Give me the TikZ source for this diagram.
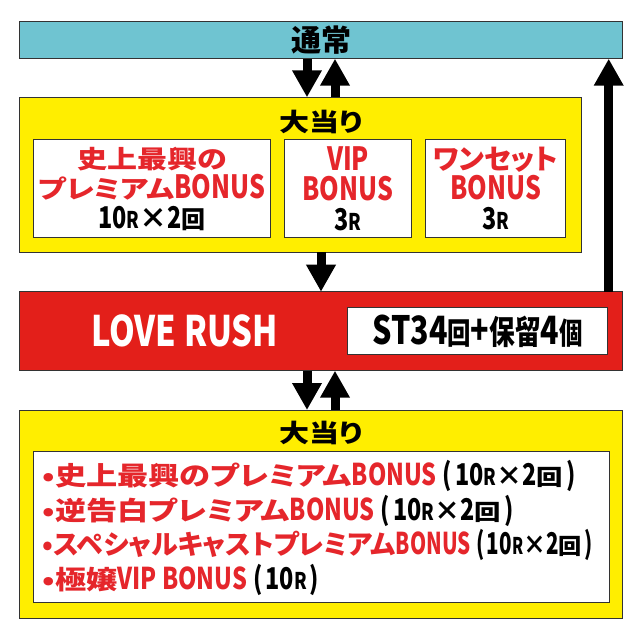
\documentclass[tikz,border=0pt]{standalone}
\usepackage{fontspec}
\usepackage{tikz}
\usetikzlibrary{positioning, arrows.meta}
\setmainfont{Noto Sans CJK JP}[RawFeature=+palt]
\newfontfamily\widefont{Noto Sans CJK JP}[FakeStretch=1.2, RawFeature=+palt]
\definecolor{stateblue}{HTML}{6FC4D1}
\definecolor{hityellow}{HTML}{FFEE00}
\definecolor{rushred}{HTML}{E31F1A}
\definecolor{bonusred}{HTML}{E5262B}
\newcommand{\en}[2]{\scalebox{0.78}[1]{\rmfamily\fontsize{#1}{#1}\selectfont #2}}
\newcommand{\rounds}[1]{\kern6pt\textcolor{black}{\en{30}{(}\kern3pt#1\kern3pt\en{30}{)}}}

\begin{document}
\begin{tikzpicture}[x=1pt, y=1pt]
	\tikzstyle{bar} = [rectangle, draw=black!80, line width=1pt, inner sep=0pt, 
	outer sep=0pt, anchor=north west]
	\tikzstyle{bonusbox} = [rectangle, draw=black!80, line width=1pt, fill=white, 
	inner sep=0pt, outer sep=0pt, minimum height=98.4pt, align=center, 
	text=bonusred, font=\bfseries\widefont\fontsize{25}{30}\selectfont]
	\tikzstyle{title} = [inner sep=0pt, font=\bfseries\widefont\fontsize{25}{25}\selectfont]
	\tikzstyle{arrow} = [line width=9pt, -{Triangle[width=28pt, length=27pt]}]
	\useasboundingbox (0,0) rectangle (640,-638);
	% states
	\node (normalState) [bar, fill=stateblue, minimum width=603.4pt, minimum height=37.4pt, 
	font=\bfseries\fontsize{30}{30}\selectfont] at (19.3,-21.3) {通常};
	\node (bigHit1) [bar, fill=hityellow, minimum width=561.7pt, minimum height=154.7pt, 
	below right=38.6pt and 0pt of normalState.south west] {};
	\node (hitTitle1) [title] at ([yshift=-24.4pt]bigHit1.north -| normalState.north) {大当り};
	\node (premiumBonus) [bonusbox, anchor=north west, minimum width=236.7pt, 
	below right=42pt and 14.2pt of bigHit1.north west] 
	{史上最興の\\プレミアム\en{32}{BONUS}\\\textcolor{black}{\rmfamily\en{30}{10}\en{23}{R}{\fontsize{28}{28}\selectfont ×}\en{30}{2}{\fontsize{24}{24}\selectfont 回}}};
	\node (vipBonus) [bonusbox, minimum width=127pt, right=14.3pt of premiumBonus] 
	{\en{32}{VIP}\\\en{32}{BONUS}\\\textcolor{black}{\en{30}{3}\en{23}{R}}};
	\node (oneSetBonus) [bonusbox, minimum width=139.6pt, right=14.3pt of vipBonus] 
	{{\rmfamily\fontsize{28}{28}\selectfont ワンセット}\\\en{32}{BONUS}\\\textcolor{black}{\en{30}{3}\en{23}{R}}};
	\node (loveRush) [bar, fill=rushred, minimum width=603.4pt, minimum height=79pt, 
	below right=39.7pt and 0pt of bigHit1.south west] {};
	\node (rushLabel) [inner sep=0pt, text=white, font=\bfseries] 
	at ([xshift=165.4pt]loveRush.west) {\en{42}{LOVE RUSH}};
	\node (stCount) [rectangle, draw=black!80, line width=1pt, fill=white, inner sep=0pt, 
	minimum width=260.5pt, minimum height=46.6pt, anchor=east, font=\bfseries] 
	at ([xshift=-14.4pt]loveRush.east) 
	{\en{39}{ST34}\en{30}{回}\en{39}{+}\en{33}{保留}\en{39}{4}\en{30}{個}};
	\node (bigHit2) [bar, fill=hityellow, minimum width=603.4pt, minimum height=208.3pt, 
	below right=39.3pt and 0pt of loveRush.south west] {};
	\node (hitTitle2) [title] at ([yshift=-22.5pt]bigHit2.north) {大当り};
	\node (bonusList) [bar, fill=white, minimum width=575.5pt, minimum height=150.8pt, 
	below right=41.7pt and 14.2pt of bigHit2.north west] {};
	\node (listText) [inner sep=0pt, anchor=west, align=left, text=bonusred, 
	font=\bfseries\widefont\fontsize{26}{34.5}\selectfont] at ([xshift=9pt, yshift=-1pt]bonusList.west) 
	{•史上最興のプレミアム\en{30}{BONUS}\rounds{\en{30}{10}\en{23}{R}{\rmfamily ×}\en{30}{2}{\fontsize{22}{22}\selectfont 回}}\\
	•逆告白プレミアム\en{30}{BONUS}\rounds{\en{30}{10}\en{23}{R}{\rmfamily ×}\en{30}{2}{\fontsize{22}{22}\selectfont 回}}\\
	{\rmfamily\fontsize{27}{27}\selectfont •スペシャルキャストプレミアム}\scalebox{0.88}[1]{\en{30}{BONUS}\rounds{\en{30}{10}\en{23}{R}{\rmfamily ×}\en{30}{2}{\fontsize{22}{22}\selectfont 回}}}\\
	•極嬢\en{30}{VIP BONUS}\rounds{\en{30}{10}\en{23}{R}}};
	% flow
	\draw [arrow] ([xshift=-14pt]normalState.south) -- ([xshift=-14pt]normalState.south |- bigHit1.north);
	\draw [arrow] ([xshift=14pt]normalState.south |- bigHit1.north) -- ([xshift=14pt]normalState.south);
	\draw [arrow] (bigHit1.south -| loveRush.north) -- (loveRush.north);
	\draw [arrow] ([xshift=-14pt]loveRush.north east) -- ([xshift=-14pt]normalState.south east);
	\draw [arrow] ([xshift=-14pt]loveRush.south) -- ([xshift=-14pt]bigHit2.north);
	\draw [arrow] ([xshift=14pt]bigHit2.north) -- ([xshift=14pt]loveRush.south);
\end{tikzpicture}
\end{document}
